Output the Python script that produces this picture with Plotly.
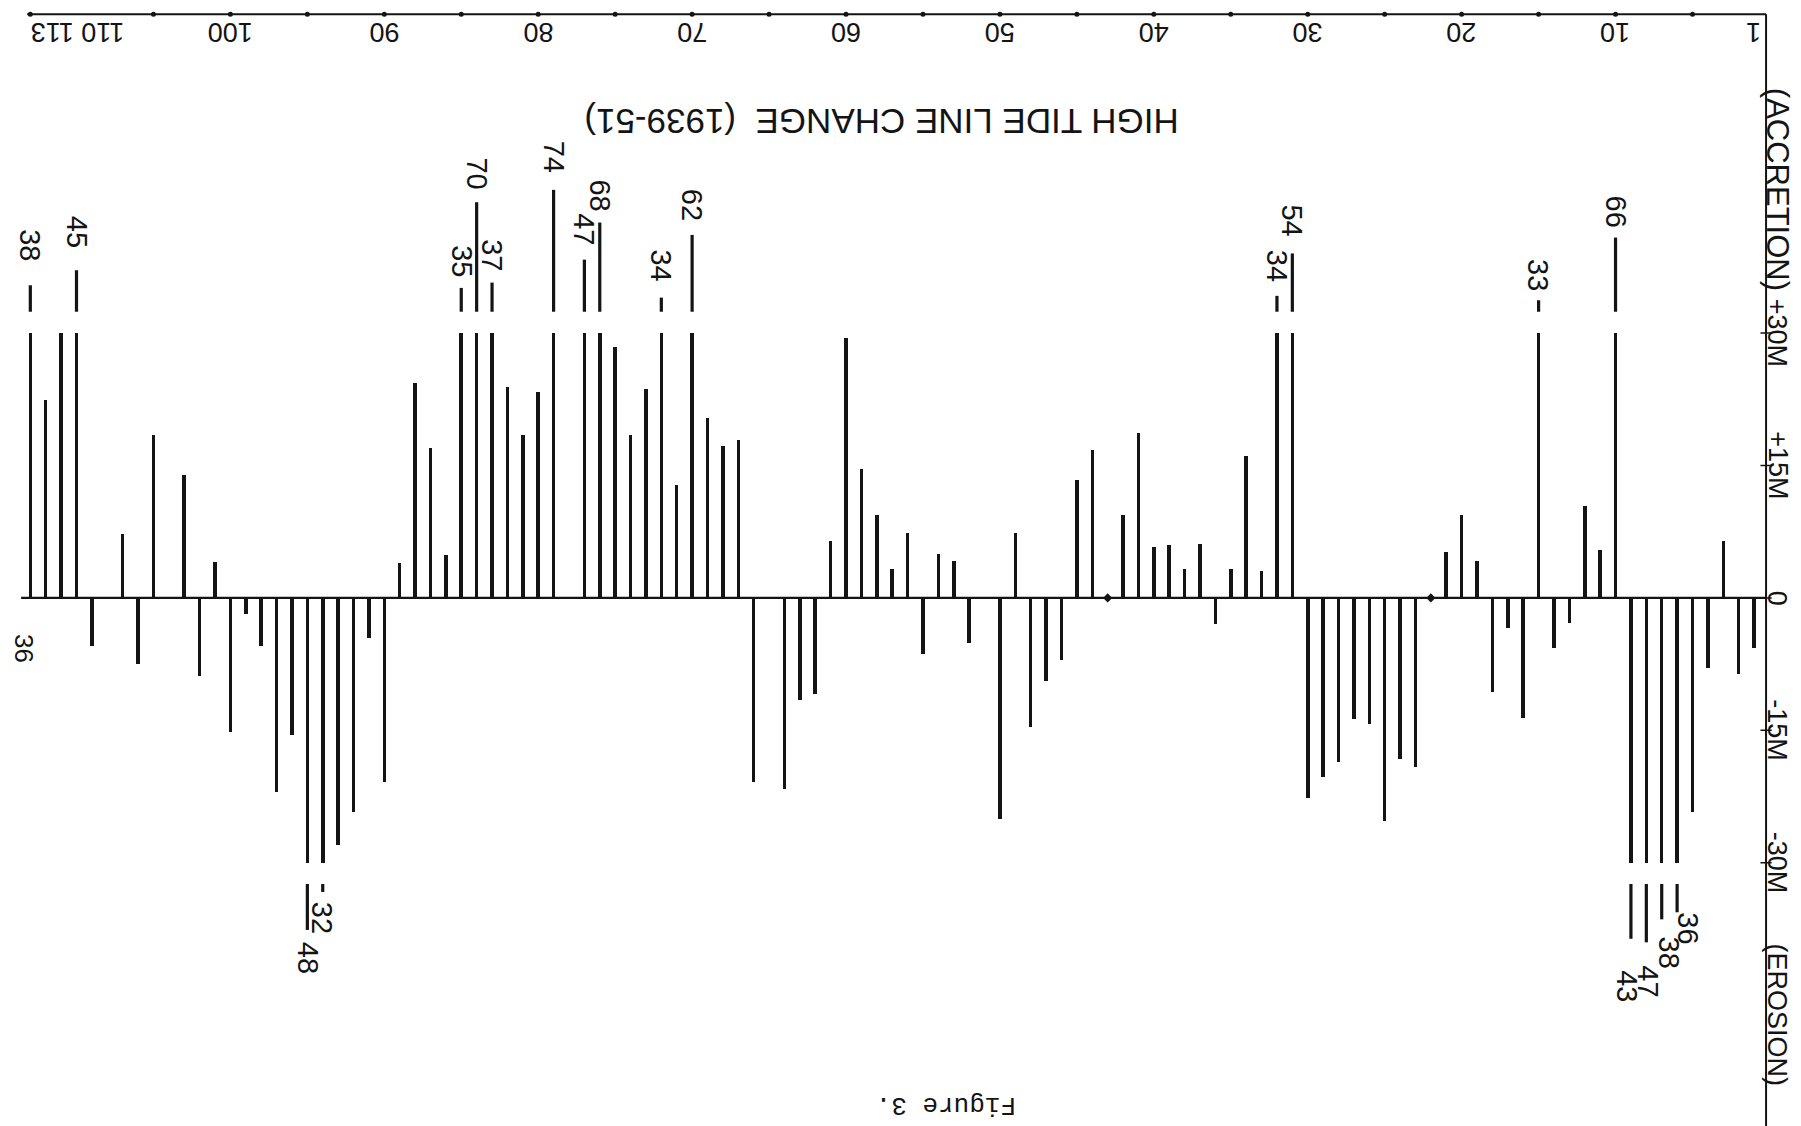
import plotly.graph_objects as go

# ---------------- data ----------------
stations = list(range(1, 114))
# high tide line change 1939-51, metres (+ accretion, - erosion)
change_m = [
    -5.7, -8.6, 6.4, -7.9, -24.3, -36, -38, -47, -43, 66,
    5.4, 10.4, -2.9, -5.7, 33, -13.6, -3.4, -10.7, 4.2, 9.4,
    5.2, 0, -19.1, -18.2, -25.3, -14.3, -13.7, -18.6, -20.3, -22.7,
    54, 34, 3.0, 16.1, 3.3, -3.0, 6.1, 3.3, 6.0, 5.8,
    18.7, 9.4, 0, 16.8, 13.3, -7.0, -9.4, -14.6, 7.3, -25.0,
    0, -5.1, 4.2, 5.0, -6.3, 7.3, 3.3, 9.4, 14.6, 29.4,
    6.4, -10.9, -11.6, -21.6, 0, -20.9, 17.9, 17.2, 20.4, 62,
    12.8, 34, 23.7, 18.5, 28.4, 68, 47, 0, 74, 23.3,
    18.5, 23.9, 37, 70, 35, 4.9, 17.0, 24.3, 4.0, -20.9,
    -4.5, -24.3, -28.0, -32, -48, -15.5, -22.0, -5.4, -1.8, -15.2,
    4.1, -8.9, 13.9, 0, 18.4, -7.5, 7.2, 0, -5.5, 45,
    30, 22.4, 38,
]
zero_mark_stations = [22, 43]
tick_label_stations = [1, 10, 20, 30, 40, 50, 60, 70, 80, 90, 100, 110, 113]
tick_label_text = ["1", "10", "20", "30", "40", "50", "60", "70", "80", "90", "100", "110", "113"]
minor_tick_stations = list(range(5, 110, 5)) + [113]
scale_values = [30, 15, 0, -15, -30]
scale_text = ["+30M", "+15M", "0", "-15M", "-30M"]
title_text = "HIGH TIDE LINE CHANGE  (1939-51)"
caption_text = "Figure 3."
page_text = "36"

# ---------------- layout / style ----------------
CAP = 30.0
INK = "#141414"
X_RANGE = [114.97, -2.05]
Y_RANGE = [-59.8, 67.7]
TOP_Y = 66.1
RIGHT_X = 0.22
LEFT_X = 113.2
# hand-lettered offsets of the crowded "110 113" tick labels
tick_label_nudge = {110: -1.7, 113: -1.4}
# stub end / label centre / label x shift for the clipped bars (in metres / stations)
label_pos = {
    113: (35.4, 39.9, 0), 110: (37.1, 41.4, 0), 85: (35.1, 38.1, 0), 84: (44.8, 48.1, 0),
    83: (35.7, 38.8, 0), 79: (46.2, 50.0, 0), 77: (38.3, 41.7, 0), 76: (42.5, 45.6, 0),
    72: (34.0, 37.6, 0), 70: (41.1, 44.5, 0), 32: (34.2, 37.6, 0), 31: (39.0, 42.7, 0),
    15: (33.7, 36.6, 0), 10: (40.8, 43.8, 0),
    6: (-35.6, -37.4, -0.7), 7: (-36.4, -40.2, -0.5), 8: (-39.0, -43.4, -0.1), 9: (-38.6, -44.0, 0.3),
    94: (-33.3, -36.2, 0), 95: (-37.6, -40.8, 0),
}
STUB_START = 32.4

clipped = [max(-CAP, min(CAP, v)) for v in change_m]

fig = go.Figure()
fig.add_trace(go.Bar(x=stations, y=clipped, width=0.23,
                     marker=dict(color=INK, line=dict(width=0)),
                     showlegend=False, hoverinfo="x+y"))

# stubs above/below the clipped bars
sx, sy = [], []
annotations = []
lab_font = dict(family="Liberation Sans, Arial, sans-serif", size=29, color=INK)
for s, v in zip(stations, change_m):
    if abs(v) > CAP:
        sign = 1 if v > 0 else -1
        end, ty, dx = label_pos.get(s, (sign * 36, sign * 40, 0))
        sx += [s, s, None]
        sy += [sign * STUB_START, end, None]
        annotations.append(dict(x=s + dx, y=ty, text=str(int(round(abs(v)))), textangle=90,
                                showarrow=False, font=lab_font,
                                xanchor="center", yanchor="middle"))
fig.add_trace(go.Scatter(x=sx, y=sy, mode="lines", line=dict(color=INK, width=3.2),
                         showlegend=False, hoverinfo="skip"))

# zero marks
fig.add_trace(go.Scatter(x=zero_mark_stations, y=[0] * len(zero_mark_stations), mode="markers",
                         marker=dict(symbol="diamond", size=7, color=INK),
                         showlegend=False, hoverinfo="skip"))

# frame lines: top station axis, right scale axis, zero line
fig.add_shape(type="line", x0=LEFT_X, x1=RIGHT_X, y0=TOP_Y, y1=TOP_Y,
              line=dict(color=INK, width=2))
fig.add_shape(type="line", x0=RIGHT_X, x1=RIGHT_X, y0=TOP_Y, y1=Y_RANGE[0],
              line=dict(color=INK, width=2))
fig.add_shape(type="line", x0=113.6, x1=RIGHT_X, y0=0, y1=0,
              line=dict(color=INK, width=2.2))

fig.add_trace(go.Scatter(x=minor_tick_stations, y=[TOP_Y] * len(minor_tick_stations), mode="markers",
                         marker=dict(symbol="circle", size=5, color=INK),
                         showlegend=False, hoverinfo="skip"))
fig.add_trace(go.Scatter(x=[RIGHT_X] * len(scale_values), y=scale_values, mode="markers",
                         marker=dict(symbol="cross-thin", size=8, line=dict(width=1.5, color=INK)),
                         showlegend=False, hoverinfo="skip"))

tick_font = dict(family="Liberation Sans, Arial, sans-serif", size=27, color=INK)
for s, t in zip(tick_label_stations, tick_label_text):
    annotations.append(dict(x=s + tick_label_nudge.get(s, 0), y=64.0, text=t, textangle=180,
                            showarrow=False, font=tick_font, xanchor="center", yanchor="middle"))

scale_font = dict(family="Liberation Sans, Arial, sans-serif", size=27, color=INK)
for v, t in zip(scale_values, scale_text):
    annotations.append(dict(x=-0.5, y=v, text=t, textangle=90, showarrow=False,
                            font=scale_font, xanchor="center", yanchor="middle"))
annotations.append(dict(x=-0.5, y=46.3, text="(ACCRETION)", textangle=90, showarrow=False,
                        font=dict(family="Liberation Sans, Arial, sans-serif", size=31, color=INK),
                        xanchor="center", yanchor="middle"))
annotations.append(dict(x=-0.5, y=-47.2, text="(EROSION)", textangle=90, showarrow=False,
                        font=scale_font, xanchor="center", yanchor="middle"))

annotations.append(dict(x=57.7, y=54.0, text=title_text, textangle=180, showarrow=False,
                        font=dict(family="Liberation Sans, Arial, sans-serif", size=35, color=INK),
                        xanchor="center", yanchor="middle"))
annotations.append(dict(x=53.5, y=-57.4, text=caption_text, textangle=180, showarrow=False,
                        font=dict(family="Liberation Mono, Courier New, monospace", size=26, color=INK),
                        xanchor="center", yanchor="middle"))
annotations.append(dict(x=113.4, y=-5.7, text=page_text, textangle=90, showarrow=False,
                        font=dict(family="Liberation Sans, Arial, sans-serif", size=26, color=INK),
                        xanchor="center", yanchor="middle"))

fig.update_layout(
    width=1801, height=1126,
    margin=dict(l=0, r=0, t=0, b=0),
    paper_bgcolor="white", plot_bgcolor="white",
    bargap=0,
    xaxis=dict(range=X_RANGE, visible=False, fixedrange=True),
    yaxis=dict(range=Y_RANGE, visible=False, fixedrange=True),
    annotations=annotations,
    showlegend=False,
)

fig.write_html("out.html")
